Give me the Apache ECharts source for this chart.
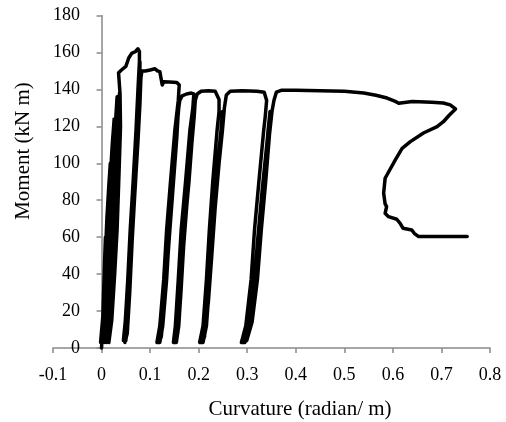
<!DOCTYPE html>
<html>
<head>
<meta charset="utf-8">
<script src="https://cdn.jsdelivr.net/npm/echarts@6/dist/echarts.min.js"></script>
<style>
  html, body { margin: 0; padding: 0; background: #fff; }
  #chart { width: 506px; height: 422px; }
</style>
</head>
<body>
<div id="chart"></div>
<script>
// [curvature (radian/m), moment (kN m)], in test order
const initialCycles = [
  [0, 0], [0.002, 12], [0.004, 28], [0.006, 45], [0.008, 60],
  [0.006, 42], [0.003, 18], [-0.002, 3],
  [0.003, 18], [0.007, 45], [0.011, 70], [0.015, 88], [0.018, 100],
  [0.014, 78], [0.009, 45], [0.005, 18], [0.001, 3],
  [0.006, 22], [0.011, 55], [0.017, 88], [0.022, 110], [0.026, 124],
  [0.021, 100], [0.015, 64], [0.01, 30], [0.006, 3],
  [0.012, 25], [0.018, 60], [0.024, 95], [0.029, 122], [0.032, 136],
  [0.027, 115], [0.021, 78], [0.016, 40], [0.012, 12], [0.01, 3],
  [0.016, 18], [0.022, 45], [0.028, 75], [0.033, 105], [0.036, 125], [0.037, 138],
  [0.032, 118], [0.027, 90], [0.023, 60], [0.019, 30], [0.016, 8], [0.015, 3],
  [0.021, 15], [0.027, 40], [0.032, 64], [0.036, 95], [0.039, 120], [0.038, 138], [0.035, 149]
];
const peakBranch = [
  [0.041, 150.5], [0.05, 152.5], [0.056, 157], [0.062, 159.5], [0.07, 160.5],
  [0.075, 162], [0.078, 160.5], [0.078, 155]
];
const cycle1 = [
  [0.075, 140], [0.071, 118], [0.065, 90], [0.059, 64], [0.054, 37], [0.049, 15], [0.045, 4],
  [0.05, 4], [0.054, 15], [0.059, 37], [0.064, 64], [0.07, 90], [0.076, 118], [0.079, 140], [0.079, 155],
  [0.079, 150], [0.077, 135], [0.073, 112], [0.067, 84], [0.061, 58], [0.056, 33], [0.051, 12], [0.048, 3],
  [0.053, 8], [0.058, 30], [0.063, 58], [0.069, 86], [0.075, 112], [0.079, 132], [0.081, 146], [0.083, 150]
];
const plateau1 = [
  [0.09, 150], [0.1, 150.5], [0.11, 151.2], [0.115, 150], [0.12, 149.6], [0.124, 148.7],
  [0.125, 142.4], [0.128, 144.2], [0.14, 144], [0.155, 143.7], [0.16, 142.4]
];
const cycle2 = [
  [0.158, 134], [0.151, 118], [0.142, 90], [0.134, 64], [0.128, 37], [0.12, 12], [0.114, 3],
  [0.12, 3], [0.126, 12], [0.134, 37], [0.14, 64], [0.148, 90], [0.155, 118], [0.159, 130],
  [0.157, 125], [0.152, 110], [0.144, 82], [0.137, 56], [0.131, 30], [0.123, 9], [0.117, 3],
  [0.123, 6], [0.131, 28], [0.139, 58], [0.147, 86], [0.155, 114], [0.158, 128], [0.161, 134],
  [0.166, 136.5], [0.175, 137.5], [0.185, 138], [0.19, 137.5]
];
const cycle3 = [
  [0.188, 130], [0.182, 118], [0.173, 90], [0.164, 64], [0.158, 37], [0.152, 12], [0.148, 3],
  [0.154, 3], [0.159, 12], [0.165, 37], [0.171, 64], [0.18, 90], [0.188, 118], [0.191, 130],
  [0.188, 122], [0.182, 104], [0.174, 78], [0.167, 52], [0.16, 25], [0.154, 6], [0.151, 3],
  [0.157, 8], [0.163, 28], [0.169, 55], [0.177, 82], [0.185, 108], [0.191, 126], [0.193, 134],
  [0.197, 137.5], [0.205, 139], [0.22, 139.3], [0.234, 139]
];
const cycle4 = [
  [0.242, 134.5], [0.242, 128], [0.238, 118], [0.229, 90], [0.222, 64], [0.216, 37], [0.209, 12], [0.202, 3],
  [0.209, 3], [0.216, 12], [0.223, 37], [0.229, 64], [0.238, 90], [0.246, 118], [0.249, 128],
  [0.247, 120], [0.239, 100], [0.231, 76], [0.224, 50], [0.218, 25], [0.211, 7], [0.206, 3],
  [0.212, 6], [0.22, 25], [0.227, 50], [0.234, 76], [0.242, 100], [0.249, 118], [0.253, 130],
  [0.257, 137], [0.265, 139], [0.29, 139.3], [0.32, 139], [0.335, 138.5]
];
const cycle5 = [
  [0.34, 134], [0.337, 125], [0.334, 118], [0.324, 90], [0.315, 64], [0.308, 37], [0.297, 12], [0.288, 3],
  [0.295, 3], [0.305, 12], [0.317, 37], [0.325, 64], [0.334, 90], [0.343, 118], [0.347, 128],
  [0.345, 122], [0.341, 112], [0.331, 86], [0.322, 60], [0.314, 35], [0.304, 14], [0.293, 3],
  [0.299, 4], [0.31, 14], [0.321, 37], [0.329, 64], [0.338, 90], [0.346, 116], [0.351, 128],
  [0.355, 134], [0.36, 138.5], [0.37, 139.5]
];
const finalBranch = [
  [0.4, 139.6], [0.45, 139.3], [0.5, 139], [0.54, 138], [0.565, 136.8], [0.588, 135.3],
  [0.605, 133.5], [0.612, 132.5], [0.64, 133.4], [0.68, 133], [0.704, 132.6], [0.718, 131.6],
  [0.729, 129.4], [0.716, 126], [0.704, 122.5], [0.691, 119.8], [0.663, 116.4], [0.636, 111.7],
  [0.619, 108.1], [0.605, 101.8], [0.584, 91.9], [0.581, 83.8], [0.584, 78], [0.587, 76.5],
  [0.584, 72.9], [0.591, 71.1], [0.608, 69.7], [0.615, 67.5], [0.621, 64.8], [0.639, 63.9],
  [0.644, 62.1], [0.653, 60.3], [0.753, 60.3]
];

const curve = [].concat(initialCycles, peakBranch, cycle1, plateau1, cycle2,
  cycle3, cycle4, cycle5, finalBranch);

const font = '"Liberation Serif", "Times New Roman", serif';
const axisGrey = '#898989';

const chart = echarts.init(document.getElementById('chart'));
chart.setOption({
  animation: false,
  backgroundColor: '#fff',
  grid: { left: 53, right: 16, top: 15.5, bottom: 74, containLabel: false, outerBoundsMode: 'none' },
  xAxis: {
    type: 'value',
    min: -0.1, max: 0.8, interval: 0.1,
    axisLine: { show: true, onZero: true, lineStyle: { color: axisGrey, width: 1.5 } },
    axisTick: { show: true, length: 5, lineStyle: { color: axisGrey, width: 1.5 } },
    axisLabel: { color: '#000', fontFamily: font, fontSize: 18, margin: 18 },
    splitLine: { show: false }
  },
  yAxis: {
    type: 'value',
    min: 0, max: 180, interval: 20,
    axisLine: { show: true, onZero: true, lineStyle: { color: axisGrey, width: 1.5 } },
    axisTick: { show: true, length: 5, lineStyle: { color: axisGrey, width: 1.5 } },
    // labels stay at the grid edge while the line sits on x = 0, so pull them right
    axisLabel: { color: '#000', fontFamily: font, fontSize: 18, margin: -27 },
    splitLine: { show: false }
  },
  graphic: [
    {
      type: 'text', x: 300, y: 409,
      style: { text: 'Curvature (radian/ m)', fill: '#000', font: '21px ' + font, align: 'center', verticalAlign: 'middle' }
    },
    {
      type: 'text', x: 23, y: 151, rotation: Math.PI / 2,
      style: { text: 'Moment (kN m)', fill: '#000', font: '21px ' + font, align: 'center', verticalAlign: 'middle' }
    }
  ],
  series: [{
    type: 'line',
    data: curve,
    showSymbol: false,
    symbol: 'none',
    clip: false,
    lineStyle: { color: '#000', width: 3.5, join: 'round', cap: 'round' }
  }]
});
</script>
</body>
</html>
